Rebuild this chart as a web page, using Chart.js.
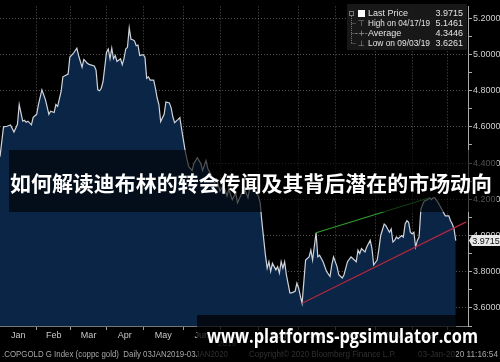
<!DOCTYPE html>
<html>
<head>
<meta charset="utf-8">
<script src="https://cdn.jsdelivr.net/npm/chart.js@4.4.1/dist/chart.umd.min.js"></script>
<style>
  html, body { margin: 0; padding: 0; background: #000; }
  #wrap { width: 500px; height: 362px; }
</style>
</head>
<body>
<div id="wrap"><canvas id="grafico-cobre-ouro" width="500" height="362"></canvas></div>
<script>
// Dados (índice de dia útil desde 03/01/2019 e razão cobre/ouro)
const days = [
  0, 2, 4, 6, 8, 10, 11, 13, 14, 15,
  16, 18, 19, 21, 22, 24, 26, 28, 29, 31,
  32, 33, 35, 36, 39, 40, 42, 44, 45, 47,
  48, 50, 51, 54, 55, 56, 57, 58, 59, 61,
  62, 63, 64, 65, 66, 67, 69, 70, 71, 72,
  73, 74, 75, 76, 77, 78, 79, 80, 82, 83,
  84, 85, 86, 88, 89, 90, 91, 92, 94, 95,
  97, 98, 99, 100, 102, 103, 104, 106, 107, 108,
  110, 111, 113, 115, 116, 118, 119, 121, 123, 124,
  126, 128, 130, 131, 133, 135, 136, 138, 140, 142,
  143, 146, 148, 149, 150, 152, 153, 154, 155, 156,
  158, 159, 160, 161, 162, 163, 164, 166, 167, 169,
  170, 171, 172, 173, 175, 177, 178, 179, 181, 182,
  183, 185, 187, 189, 190, 191, 193, 194, 196, 197,
  199, 201, 202, 204, 205, 206, 207, 209, 210, 212,
  213, 214, 216, 217, 218, 220, 221, 222, 223, 224,
  225, 226, 227, 228, 230, 231, 232, 233, 234, 235,
  236, 237, 238, 239, 240, 241, 242, 243, 245, 246,
  247, 248, 249, 251, 253, 255, 257, 258, 259, 260,
  261
];
const prices = [
  4.435, 4.600, 4.603, 4.610, 4.571, 4.614, 4.723, 4.631, 4.636, 4.625,
  4.631, 4.611, 4.652, 4.669, 4.723, 4.804, 4.750, 4.669, 4.686, 4.679,
  4.723, 4.713, 4.795, 4.876, 4.891, 4.985, 5.005, 5.034, 4.994, 4.930,
  4.972, 4.951, 4.945, 4.936, 4.913, 4.804, 4.799, 4.813, 4.849, 5.012,
  5.030, 4.976, 5.034, 4.976, 4.994, 4.961, 4.976, 4.943, 4.976, 5.030,
  5.039, 5.1461, 5.084, 5.081, 5.075, 5.048, 5.052, 4.994, 4.998, 4.985,
  4.868, 4.876, 4.858, 4.858, 4.813, 4.759, 4.723, 4.629, 4.669, 4.737,
  4.732, 4.705, 4.654, 4.623, 4.641, 4.651, 4.587, 4.470, 4.425, 4.381,
  4.359, 4.397, 4.430, 4.397, 4.359, 4.414, 4.370, 4.332, 4.289, 4.311,
  4.246, 4.278, 4.218, 4.256, 4.197, 4.235, 4.180, 4.224, 4.262, 4.208,
  4.262, 4.253, 4.217, 4.180, 4.072, 3.891, 3.819, 3.855, 3.801, 3.846,
  3.810, 3.828, 3.792, 3.855, 3.819, 3.855, 3.783, 3.683, 3.683, 3.692,
  3.737, 3.710, 3.665, 3.6261, 3.864, 3.882, 3.919, 3.864, 4.015, 3.882,
  3.891, 3.855, 3.801, 3.774, 3.837, 3.882, 3.828, 3.783, 3.765, 3.783,
  3.855, 3.882, 3.873, 3.855, 3.919, 3.900, 3.927, 3.909, 3.936, 3.973,
  3.927, 3.837, 3.864, 3.927, 4.000, 4.063, 4.054, 4.036, 4.018, 4.036,
  3.964, 3.973, 3.991, 3.982, 4.000, 3.991, 4.063, 4.081, 4.072, 4.018,
  4.009, 4.018, 3.936, 3.973, 3.991, 4.144, 4.171, 4.190, 4.198, 4.208,
  4.198, 4.208, 4.208, 4.180, 4.144, 4.108, 4.108, 4.081, 4.063, 4.036,
  3.9715
];

// Linhas de tendência (início e fim)
const resistDays = [181, 246];
const resistValues = [4.015, 4.208];
const supportDays = [173, 267];
const supportValues = [3.6261, 4.075];

// Eixos
const monthLabels = ['Jan', 'Feb', 'Mar', 'Apr', 'May', 'Jun', 'Jul', 'Aug', 'Sep', 'Oct', 'Nov', 'Dec'];
const monthStarts = [21, 40.5, 61, 82, 105, 126, 148, 171, 192, 215, 236, 256.5];
const yearLabel = '2019';
const yTicks = [3.5, 3.6, 3.7, 3.8, 3.9, 4.0, 4.1, 4.2, 4.3, 4.4, 4.5, 4.6, 4.7, 4.8, 4.9, 5.0, 5.1, 5.2];

// Legenda
const statNames = ['Last Price', 'High on 04/17/19', 'Average', 'Low on 09/03/19'];
const statValues = ['3.9715', '5.1461', '4.3446', '3.6261'];

// Textos
const titulo = '如何解读迪布林的转会传闻及其背后潜在的市场动向';
const marcaDagua = 'www.platforms-pgsimulator.com';
const rodapeEsq = '.COPGOLD G Index (coppc gold)  Daily 03JAN2019-03JAN2020';
const rodapeMeio = 'Copyright\u00a9 2020 Bloomberg Finance L.P.';
const rodapeDir = '03-Jan-2020 11:16:54';

const monthMids = monthStarts.map((m, i) => ((i === 0 ? 0 : monthStarts[i - 1]) + m) / 2);
const isStart = v => monthStarts.some(m => Math.abs(m - v) < 0.01);
const isMajor = v => Math.round(v * 10) % 2 === 0;
const fonteEixo = { family: 'Liberation Sans', size: 9 };

const overlay = {
    id: 'overlay',
    afterDraw(chart) {
        const c = chart.ctx;
        const area = chart.chartArea;
        c.save();

        // ano abaixo dos meses
        c.fillStyle = '#8a8a8a';
        c.font = '8px "Liberation Sans"';
        c.textAlign = 'center';
        c.textBaseline = 'middle';
        c.fillText(yearLabel, 227, 344);

        // rodapé
        c.fillStyle = '#a8a8a8';
        c.font = '8.5px "Liberation Sans"';
        c.textAlign = 'left';
        c.fillText(rodapeEsq, 2, 355, 226);
        c.fillText(rodapeMeio, 249, 355, 147);
        c.fillText(rodapeDir, 418, 355, 80);

        // caixa da legenda
        c.fillStyle = 'rgba(26,26,26,0.93)';
        c.fillRect(347, 4, 120, 46);
        c.strokeStyle = '#777';
        c.lineWidth = 1;
        c.strokeRect(349.5, 11.5, 4, 4);
        c.setLineDash([1, 1]);
        c.beginPath();
        c.moveTo(351.5, 16);
        c.lineTo(351.5, 43.5);
        [23.5, 33.5, 43.5].forEach(y => { c.moveTo(351.5, y); c.lineTo(356, y); });
        c.stroke();
        c.setLineDash([]);
        c.fillStyle = '#fff';
        c.fillRect(358, 10, 7, 7);
        c.fillStyle = '#999';
        c.font = '8px "DejaVu Sans"';
        c.textAlign = 'center';
        c.fillText('\u22a4', 361.5, 23.5);
        c.fillText('-+-', 361.5, 33.5);
        c.fillText('\u22a5', 361.5, 43.5);
        c.font = '9px "Liberation Sans"';
        statNames.forEach((nome, i) => {
            const y = 13.5 + i * 10;
            c.fillStyle = '#e2e2e2';
            c.textAlign = 'left';
            c.fillText(nome, 368, y, 62);
            c.textAlign = 'right';
            c.fillText(statValues[i], 463, y);
        });

        // etiqueta do último preço
        const yUlt = chart.scales.y.getPixelForValue(prices[prices.length - 1]);
        c.fillStyle = '#e8e8e8';
        c.beginPath();
        c.moveTo(area.right + 1, yUlt);
        c.lineTo(area.right + 4, yUlt - 5.5);
        c.lineTo(500, yUlt - 5.5);
        c.lineTo(500, yUlt + 5.5);
        c.lineTo(area.right + 4, yUlt + 5.5);
        c.closePath();
        c.fill();
        c.fillStyle = '#111';
        c.font = '9px "Liberation Sans"';
        c.textAlign = 'center';
        c.fillText(prices[prices.length - 1].toFixed(4), 486, yUlt + 0.5);

        // faixa do título
        c.fillStyle = 'rgba(0,0,0,0.62)';
        c.fillRect(9, 150, 488, 62);
        c.fillStyle = '#fff';
        c.font = 'bold 21px "Noto Sans CJK SC"';
        c.textAlign = 'left';
        c.fillText(titulo, 10, 183, 482);

        // faixa da marca d'água
        c.fillStyle = 'rgba(0,0,0,0.72)';
        c.fillRect(197, 315, 259, 47);
        c.fillStyle = '#fff';
        c.font = 'bold 20px "Open Sans"';
        c.fillText(marcaDagua, 207, 337, 271);

        c.restore();
    }
};

const ctxCobre = document.getElementById('grafico-cobre-ouro').getContext('2d');
const graficoCobre = new Chart(ctxCobre, {
    type: 'line',
    data: {
        datasets: [{
            label: 'Suporte',
            data: supportDays.map((d, i) => ({ x: d, y: supportValues[i] })),
            borderColor: '#b3263e',
            borderWidth: 1.2,
            pointRadius: 0,
            fill: false,
            order: 0
        }, {
            label: 'Resistência',
            data: resistDays.map((d, i) => ({ x: d, y: resistValues[i] })),
            borderColor: '#2f9e2f',
            borderWidth: 1.2,
            pointRadius: 0,
            fill: false,
            order: 0
        }, {
            label: 'Last Price',
            data: days.map((d, i) => ({ x: d, y: prices[i] })),
            borderColor: '#d0d4da',
            borderWidth: 1.2,
            backgroundColor: '#0b2546',
            pointRadius: 0,
            tension: 0,
            fill: 'start',
            order: 1
        }]
    },
    options: {
        responsive: false,
        animation: false,
        layout: { padding: 0 },
        plugins: {
            legend: { display: false },
            tooltip: { enabled: false }
        },
        scales: {
            x: {
                type: 'linear',
                min: 0,
                max: 268,
                afterBuildTicks: scale => {
                    scale.ticks = monthStarts.concat(monthMids).sort((a, b) => a - b).map(v => ({ value: v }));
                },
                afterFit: scale => { scale.height = 36; },
                ticks: {
                    autoSkip: false,
                    maxRotation: 0,
                    padding: 0,
                    color: '#c8c8c8',
                    font: fonteEixo,
                    callback: v => {
                        const i = monthMids.findIndex(m => Math.abs(m - v) < 0.01);
                        return i >= 0 ? monthLabels[i] : '';
                    }
                },
                grid: {
                    color: ctx => (ctx.tick && isStart(ctx.tick.value)) ? 'rgba(150,150,150,0.55)' : 'rgba(0,0,0,0)',
                    tickColor: ctx => (ctx.tick && isStart(ctx.tick.value)) ? '#999' : 'rgba(0,0,0,0)',
                    tickLength: 4
                },
                border: { color: '#777', dash: [1, 2] }
            },
            y: {
                position: 'right',
                min: 3.5,
                max: 5.265,
                afterBuildTicks: scale => {
                    scale.ticks = yTicks.map(v => ({ value: v }));
                },
                afterFit: scale => { scale.width = 32; },
                ticks: {
                    padding: 1,
                    color: '#cfcfcf',
                    font: fonteEixo,
                    callback: v => isMajor(v) ? v.toFixed(4) : ''
                },
                grid: {
                    color: ctx => (ctx.tick && isMajor(ctx.tick.value)) ? 'rgba(150,150,150,0.55)' : 'rgba(0,0,0,0)',
                    tickColor: '#aaa',
                    tickLength: 4
                },
                border: { color: '#aaa', dash: [1, 2] }
            }
        }
    },
    plugins: [overlay]
});
</script>
</body>
</html>
